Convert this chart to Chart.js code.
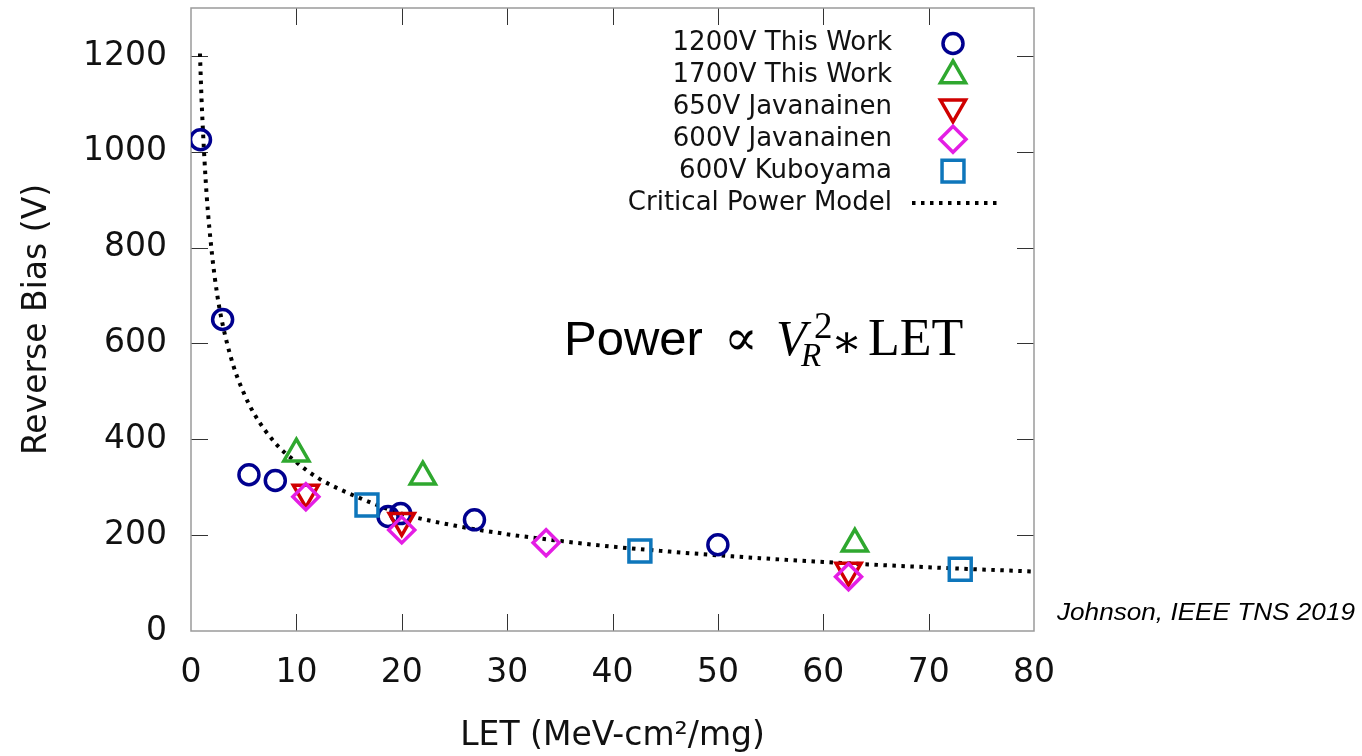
<!DOCTYPE html>
<html>
<head>
<meta charset="utf-8">
<script src="https://cdn.jsdelivr.net/npm/chart.js@4.4.1/dist/chart.umd.min.js"></script>
<style>
  html, body { margin: 0; padding: 0; background: #fff; }
  #wrap { width: 1362px; height: 756px; }
</style>
</head>
<body>
<div id="wrap"><canvas id="myChart" width="1362" height="756"></canvas></div>
<script>
// LET (MeV-cm2/mg) and reverse bias (V) for each data set
const let1200 = [0.9, 3.0, 5.5, 8.0, 18.7, 19.9, 26.9, 50.0];
const bias1200 = [1025, 650, 326, 314, 239, 245, 232, 180];

const let1700 = [10.0, 22.0, 63.0];
const bias1700 = [370, 322, 182];

const let650J = [10.9, 20.0, 62.4];
const bias650J = [289, 230, 126];

const let600J = [10.9, 20.0, 33.7, 62.4];
const bias600J = [280, 211, 184, 113];

const let600K = [16.7, 42.6, 73.0];
const bias600K = [263, 167, 129];

// critical power model curve
const modelLet = [0.85, 1, 1.25, 1.5, 2, 2.5, 3, 4, 5, 6, 8, 10, 12, 15, 20, 25, 30, 35, 40, 50, 60, 70, 80];
const modelBias = [1205, 1110, 995, 905, 785, 700, 640, 555, 497, 453, 392, 352, 320, 287, 245, 220, 202, 188, 176, 158, 144, 133, 124];

const xTicks = [0, 10, 20, 30, 40, 50, 60, 70, 80];
const yTicks = [0, 200, 400, 600, 800, 1000, 1200];

const seriesNames = ['1200V This Work', '1700V This Work', '650V Javanainen', '600V Javanainen', '600V Kuboyama', 'Critical Power Model'];

function toPoints(xs, ys) {
  return xs.map((x, i) => ({ x: x, y: ys[i] }));
}

const markerStyles = [
  { pointStyle: 'circle', radius: 10, rotation: 0, color: '#00008f', order: 5 },
  { pointStyle: 'triangle', radius: 14.5, rotation: 0, color: '#2fa82f', order: 4 },
  { pointStyle: 'triangle', radius: 14.5, rotation: 180, color: '#d00000', order: 2 },
  { pointStyle: 'rectRot', radius: 13, rotation: 0, color: '#e41ee4', order: 1 },
  { pointStyle: 'rect', radius: 15.5, rotation: 0, color: '#0e76bb', order: 3 }
];

const seriesData = [
  toPoints(let1200, bias1200),
  toPoints(let1700, bias1700),
  toPoints(let650J, bias650J),
  toPoints(let600J, bias600J),
  toPoints(let600K, bias600K)
];

const datasets = seriesData.map((pts, i) => ({
  label: seriesNames[i],
  data: pts,
  showLine: false,
  pointStyle: markerStyles[i].pointStyle,
  pointRadius: markerStyles[i].radius,
  pointRotation: markerStyles[i].rotation,
  pointBorderWidth: 3.5,
  pointBorderColor: markerStyles[i].color,
  pointBackgroundColor: 'rgba(0,0,0,0)',
  order: markerStyles[i].order
}));

const modelDash = [3.5, 5.5];

datasets.push({
  label: seriesNames[5],
  data: toPoints(modelLet, modelBias),
  showLine: true,
  borderColor: '#000',
  borderWidth: 4,
  borderDash: modelDash,
  pointRadius: 0,
  cubicInterpolationMode: 'monotone',
  order: 9
});

const tickFont = { family: 'DejaVu Sans', size: 33 };

// frame, inward ticks, legend and the annotations
const decorations = {
  id: 'decorations',
  beforeDatasetsDraw(chart) {
    const ctx = chart.ctx;
    const a = chart.chartArea;
    const xs = chart.scales.x;
    const ys = chart.scales.y;
    ctx.save();
    ctx.strokeStyle = '#333';
    ctx.lineWidth = 1;
    xTicks.slice(1, -1).forEach((v) => {
      const px = Math.round(xs.getPixelForValue(v)) + 0.5;
      ctx.beginPath();
      ctx.moveTo(px, a.bottom); ctx.lineTo(px, a.bottom - 17);
      ctx.moveTo(px, a.top); ctx.lineTo(px, a.top + 17);
      ctx.stroke();
    });
    yTicks.slice(1).forEach((v) => {
      const py = Math.round(ys.getPixelForValue(v)) + 0.5;
      ctx.beginPath();
      ctx.moveTo(a.left, py); ctx.lineTo(a.left + 17, py);
      ctx.moveTo(a.right, py); ctx.lineTo(a.right - 17, py);
      ctx.stroke();
    });
    ctx.strokeStyle = '#9a9a9a';
    ctx.lineWidth = 1.5;
    ctx.strokeRect(a.left, a.top, a.right - a.left, a.bottom - a.top);
    ctx.restore();
  },
  afterDraw(chart) {
    const ctx = chart.ctx;
    ctx.save();

    // legend: right aligned labels, symbol on the right
    ctx.font = '26px "DejaVu Sans"';
    ctx.textAlign = 'right';
    ctx.textBaseline = 'middle';
    seriesNames.forEach((name, i) => {
      const y = 43.5 + i * 31.9;
      ctx.fillStyle = '#111';
      ctx.fillText(name, 892, y);
      if (i < markerStyles.length) {
        const m = markerStyles[i];
        ctx.strokeStyle = m.color;
        ctx.fillStyle = 'rgba(0,0,0,0)';
        ctx.lineWidth = 3.5;
        Chart.helpers.drawPoint(ctx, {
          pointStyle: m.pointStyle,
          radius: m.radius,
          rotation: m.rotation,
          borderWidth: 3.5
        }, 953, y);
      } else {
        ctx.strokeStyle = '#000';
        ctx.lineWidth = 4;
        ctx.setLineDash(modelDash);
        ctx.beginPath();
        ctx.moveTo(912, y);
        ctx.lineTo(998, y);
        ctx.stroke();
        ctx.setLineDash([]);
      }
    });

    // Power ∝ V_R^2 * LET
    ctx.fillStyle = '#000';
    ctx.textAlign = 'left';
    ctx.textBaseline = 'alphabetic';
    ctx.font = '49px "Liberation Sans"';
    ctx.fillText('Power', 564, 355);
    ctx.font = '50px "DejaVu Serif"';
    ctx.fillText('\u221D', 724, 355);
    ctx.font = 'italic 50px "Liberation Serif"';
    ctx.fillText('V', 776, 355);
    ctx.font = '37px "Liberation Serif"';
    ctx.fillText('2', 814, 338);
    ctx.font = 'italic 33px "Liberation Serif"';
    ctx.fillText('R', 801, 366);
    ctx.font = '46px "DejaVu Serif"';
    ctx.fillText('\u2217', 831, 357);
    ctx.font = '52px "Liberation Serif"';
    ctx.fillText('LET', 868, 355);

    // citation
    ctx.font = 'italic 24px "Liberation Sans"';
    const cite = 'Johnson, IEEE TNS 2019';
    const w = ctx.measureText(cite).width;
    ctx.translate(1057, 620);
    ctx.scale(298 / w, 1);
    ctx.fillText(cite, 0, 0);
    ctx.restore();
  }
};

const ctx = document.getElementById('myChart');
const myChart = new Chart(ctx, {
  type: 'scatter',
  data: { datasets: datasets },
  options: {
    responsive: false,
    animation: false,
    devicePixelRatio: 1,
    layout: { autoPadding: false, padding: { top: 8, right: 328, left: 0, bottom: 0 } },
    plugins: {
      legend: { display: false },
      tooltip: { enabled: false }
    },
    scales: {
      x: {
        type: 'linear',
        min: 0,
        max: 80,
        afterBuildTicks: (s) => { s.ticks = xTicks.map((v) => ({ value: v })); },
        afterFit: (s) => { s.height = 125; },
        grid: { display: false },
        border: { display: false },
        ticks: { font: tickFont, color: '#111', padding: 15, maxRotation: 0, callback: (v) => String(v) },
        title: {
          display: true,
          text: 'LET (MeV-cm\u00B2/mg)',
          font: { family: 'DejaVu Sans', size: 33 },
          color: '#111',
          padding: { top: 0, bottom: 0 }
        }
      },
      y: {
        type: 'linear',
        min: 0,
        max: 1300,
        afterBuildTicks: (s) => { s.ticks = yTicks.map((v) => ({ value: v })); },
        afterFit: (s) => { s.width = 191; },
        // invisible tick marks keep the labels clear of the axis
        grid: {
          display: true,
          drawOnChartArea: false,
          drawTicks: true,
          tickLength: 24,
          color: 'rgba(0,0,0,0)'
        },
        border: { display: false },
        ticks: {
          font: { family: 'DejaVu Sans', size: 33, lineHeight: 0.4 },
          color: '#111',
          padding: 0,
          callback: (v) => String(v)
        },
        title: {
          display: true,
          text: 'Reverse Bias (V)',
          font: { family: 'DejaVu Sans', size: 33 },
          color: '#111',
          padding: { top: 18, bottom: 0 }
        }
      }
    }
  },
  plugins: [decorations]
});
</script>
</body>
</html>
